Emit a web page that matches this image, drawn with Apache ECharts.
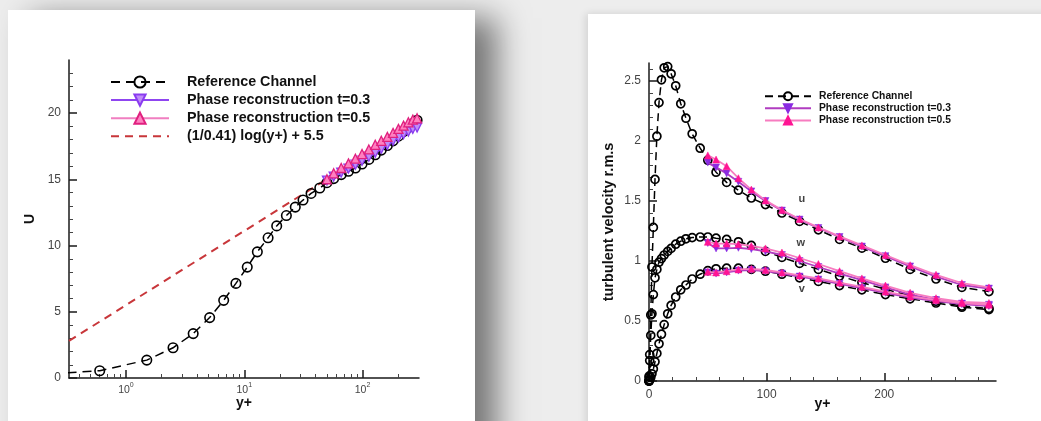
<!DOCTYPE html>
<html>
<head>
<meta charset="utf-8">
<script src="https://cdn.jsdelivr.net/npm/echarts@6/dist/echarts.min.js"></script>
<style>
  body { margin: 0; width: 1041px; height: 421px; overflow: hidden; position: relative; background: #ededed; }
  #cardL { position: absolute; left: 8px; top: 10px; width: 467px; height: 440px; background: #fff;
           box-shadow: 22px 8px 30px rgba(0, 0, 0, 0.5); }
  #cardR { position: absolute; left: 588px; top: 14px; width: 480px; height: 440px; background: #fff;
           box-shadow: -2px 0 8px rgba(0, 0, 0, 0.12); }
  #chart { position: absolute; left: 0; top: 0; width: 1041px; height: 421px; }
</style>
</head>
<body>
<div id="cardL"></div>
<div id="cardR"></div>
<div id="chart"></div>
<script>
// wall-normal positions of the reference channel data
const yPlus = [0, 0.1, 0.6, 1.5, 2.5, 3.7, 5.1, 6.7, 8.5, 10.6, 12.9, 15.9, 18.8, 22.7, 27, 31.4, 36.7, 43.5,
  50, 57, 66, 76, 87, 99, 113, 128, 144, 162, 181, 201, 222, 244, 266, 289];
// mean velocity (left), from yPlus[1]
const uPlusRef = [0.1, 0.55, 1.35, 2.28, 3.35, 4.56, 5.86, 7.14, 8.37, 9.52, 10.58, 11.48, 12.26, 12.9, 13.43,
  13.93, 14.34, 14.74, 15.05, 15.35, 15.6, 15.85, 16.15, 16.5, 16.85, 17.2, 17.55, 17.9, 18.25, 18.6, 18.9, 19.2, 19.45];
// reconstruction starts at y+ = 50
const yPlusRecon = yPlus.slice(18);
const uPlusT3 = [14.9, 15.2, 15.5, 15.8, 16.1, 16.4, 16.7, 17.0, 17.3, 17.6, 17.9, 18.15, 18.4, 18.6, 18.8, 18.9];
const uPlusT5 = [15.0, 15.45, 15.85, 16.2, 16.55, 16.9, 17.25, 17.6, 17.9, 18.2, 18.5, 18.8, 19.05, 19.3, 19.5, 19.6];
// log law
const lawYPlus = [0.33, 1, 10, 100, 300];
const lawU = [2.8, 5.5, 11.1, 16.7, 19.4];

// rms (right)
const uRms = [0, 0.04, 0.22, 0.55, 0.95, 1.28, 1.68, 2.04, 2.32, 2.51, 2.61, 2.62, 2.56, 2.46, 2.31, 2.19, 2.06, 1.94,
  1.84, 1.74, 1.655, 1.59, 1.525, 1.47, 1.40, 1.33, 1.26, 1.18, 1.107, 1.023, 0.93, 0.85, 0.78, 0.745];
const wRms = [0, 0.03, 0.17, 0.38, 0.56, 0.72, 0.86, 0.93, 0.99, 1.02, 1.05, 1.08, 1.105, 1.14, 1.165, 1.185, 1.195, 1.2,
  1.2, 1.19, 1.18, 1.16, 1.13, 1.08, 1.03, 0.98, 0.93, 0.875, 0.82, 0.765, 0.71, 0.665, 0.625, 0.605];
const vRms = [0, 0, 0.01, 0.03, 0.06, 0.1, 0.16, 0.23, 0.31, 0.39, 0.47, 0.56, 0.63, 0.70, 0.76, 0.80, 0.85, 0.89,
  0.92, 0.935, 0.94, 0.94, 0.93, 0.915, 0.89, 0.86, 0.83, 0.795, 0.76, 0.72, 0.685, 0.65, 0.615, 0.595];
const uRmsT3 = [1.82, 1.78, 1.73, 1.66, 1.58, 1.50, 1.42, 1.345, 1.275, 1.20, 1.12, 1.04, 0.955, 0.87, 0.80, 0.77];
const uRmsT5 = [1.88, 1.845, 1.79, 1.69, 1.595, 1.505, 1.425, 1.35, 1.28, 1.205, 1.13, 1.05, 0.965, 0.885, 0.815, 0.78];
const wRmsT3 = [1.15, 1.105, 1.105, 1.11, 1.1, 1.08, 1.05, 1.0, 0.95, 0.895, 0.84, 0.78, 0.72, 0.675, 0.645, 0.635];
const wRmsT5 = [1.16, 1.145, 1.145, 1.14, 1.125, 1.105, 1.07, 1.025, 0.975, 0.915, 0.855, 0.795, 0.735, 0.69, 0.66, 0.65];
const vRmsT3 = [0.905, 0.895, 0.905, 0.92, 0.925, 0.915, 0.895, 0.87, 0.845, 0.81, 0.775, 0.735, 0.695, 0.665, 0.64, 0.625];
const vRmsT5 = [0.91, 0.905, 0.915, 0.93, 0.935, 0.925, 0.905, 0.88, 0.855, 0.82, 0.785, 0.745, 0.705, 0.675, 0.65, 0.635];

// ticks
const logMajor = [1, 10, 100];
const logMinor = [0.4, 0.5, 0.6, 0.7, 0.8, 0.9, 2, 3, 4, 5, 6, 7, 8, 9, 20, 30, 40, 50, 60, 70, 80, 90, 200];
const uMajor = [0, 5, 10, 15, 20];
const uMinor = [1, 2, 3, 4, 6, 7, 8, 9, 11, 12, 13, 14, 16, 17, 18, 19, 21, 22, 23];
const ypMajor = [0, 100, 200];
const ypMinor = [20, 40, 60, 80, 120, 140, 160, 180, 220, 240, 260, 280];
const rmsMajor = [0, 0.5, 1, 1.5, 2, 2.5];
const rmsMinor = [0.1, 0.2, 0.3, 0.4, 0.6, 0.7, 0.8, 0.9, 1.1, 1.2, 1.3, 1.4, 1.6, 1.7, 1.8, 1.9, 2.1, 2.2, 2.3, 2.4, 2.6];

const NAME_REF = 'Reference Channel';
const NAME_T3 = 'Phase reconstruction t=0.3';
const NAME_T5 = 'Phase reconstruction t=0.5';
const NAME_LAW = '(1/0.41) log(y+) + 5.5';

const FONT = 'Liberation Sans, Arial, Helvetica, sans-serif';
const pts = (xs, ys) => xs.map((x, i) => [x, ys[i]]);

const axisLine = { lineStyle: { color: '#1a1a1a', width: 1.5 } };
const labelStyle = { color: '#444', fontSize: 12, fontFamily: FONT };
const nameStyle = { color: '#111', fontWeight: 'bold', fontSize: 14, fontFamily: FONT };

function majorAxis(extra, ticks, labels) {
  return Object.assign({
    axisLine: axisLine,
    axisTick: { inside: true, length: 8, customValues: ticks, lineStyle: { color: '#1a1a1a', width: 1.5 } },
    axisLabel: Object.assign({ customValues: labels }, labelStyle),
    splitLine: { show: false }
  }, extra);
}
function minorAxis(extra, ticks) {
  return Object.assign({
    axisLine: { show: false },
    axisTick: { inside: true, length: 4, customValues: ticks, lineStyle: { color: '#444', width: 1 } },
    axisLabel: { show: false },
    splitLine: { show: false }
  }, extra);
}

// left panel styles
const refL = {
  type: 'line', xAxisIndex: 0, yAxisIndex: 0, name: NAME_REF,
  symbol: 'circle', symbolSize: 9.5,
  itemStyle: { color: 'rgba(0,0,0,0)', borderColor: '#000', borderWidth: 1.6 },
  lineStyle: { color: '#000', width: 1.5, type: [9, 6] },
  data: pts(yPlus.slice(1), uPlusRef), z: 3
};
const lawL = {
  type: 'line', xAxisIndex: 0, yAxisIndex: 0, name: NAME_LAW,
  symbol: 'circle', showSymbol: false,
  itemStyle: { color: 'rgba(0,0,0,0)' },
  lineStyle: { color: '#c8363a', width: 2, type: [8, 6] },
  data: pts(lawYPlus, lawU), z: 2
};
const t3L = {
  type: 'line', xAxisIndex: 0, yAxisIndex: 0, name: NAME_T3,
  symbol: 'triangle', symbolRotate: 180, symbolSize: 9,
  itemStyle: { color: '#c08cf8', borderColor: '#8a3cf0', borderWidth: 1.3 },
  lineStyle: { color: '#8f45f0', width: 1.6 },
  data: pts(yPlusRecon, uPlusT3), z: 4
};
const t5L = {
  type: 'line', xAxisIndex: 0, yAxisIndex: 0, name: NAME_T5,
  symbol: 'triangle', symbolSize: 9,
  itemStyle: { color: '#ff80c0', borderColor: '#e0207f', borderWidth: 1.3 },
  lineStyle: { color: '#f07ec0', width: 1.6 },
  data: pts(yPlusRecon, uPlusT5), z: 5
};

// right panel styles (names carry a trailing space so the two legends stay separate)
function refR(ys) {
  return {
    type: 'line', xAxisIndex: 2, yAxisIndex: 2, name: NAME_REF + ' ',
    symbol: 'circle', symbolSize: 8,
    itemStyle: { color: 'rgba(0,0,0,0)', borderColor: '#000', borderWidth: 1.7 },
    lineStyle: { color: '#000', width: 1.5, type: [8, 5] },
    data: pts(yPlus, ys), z: 3
  };
}
function t3R(ys) {
  return {
    type: 'line', xAxisIndex: 2, yAxisIndex: 2, name: NAME_T3 + ' ',
    symbol: 'triangle', symbolRotate: 180, symbolSize: 7,
    itemStyle: { color: '#8a2be2', borderColor: '#8a2be2', borderWidth: 0.5 },
    lineStyle: { color: '#b03cc0', width: 1.8 },
    data: pts(yPlusRecon, ys), z: 4
  };
}
function t5R(ys) {
  return {
    type: 'line', xAxisIndex: 2, yAxisIndex: 2, name: NAME_T5 + ' ',
    symbol: 'triangle', symbolSize: 7,
    itemStyle: { color: '#ff1493', borderColor: '#ff1493', borderWidth: 0.5 },
    lineStyle: { color: '#f77cc0', width: 1.8 },
    data: pts(yPlusRecon, ys), z: 5
  };
}

const chart = echarts.init(document.getElementById('chart'));
chart.setOption({
  animation: false,
  textStyle: { fontFamily: FONT },
  grid: [
    { left: 69, top: 60, width: 350, height: 318 },
    { left: 649, top: 63, width: 347, height: 318 }
  ],
  legend: [
    {
      left: 105, top: 70, orient: 'vertical', selectedMode: false,
      itemWidth: 58, itemHeight: 14, itemGap: 4.1,
      textStyle: { color: '#111', fontSize: 14.3, fontWeight: 'bold', lineHeight: 14, padding: [0, 0, 0, 13] },
      data: [NAME_REF, NAME_T3, NAME_T5, NAME_LAW]
    },
    {
      left: 759, top: 86.2, orient: 'vertical', selectedMode: false,
      itemWidth: 46, itemHeight: 10, itemGap: 2.1,
      textStyle: { color: '#111', fontSize: 10.3, fontWeight: 'bold', lineHeight: 10, padding: [0, 0, 0, 3] },
      data: [NAME_REF + ' ', NAME_T3 + ' ', NAME_T5 + ' ']
    }
  ],
  xAxis: [
    majorAxis({
      type: 'log', logBase: 10, gridIndex: 0, position: 'bottom', min: 0.33, max: 300,
      name: 'y+', nameLocation: 'middle', nameGap: 18, nameMoveOverlap: false, nameTextStyle: nameStyle
    }, logMajor, logMajor),
    minorAxis({ type: 'log', logBase: 10, gridIndex: 0, position: 'bottom', min: 0.33, max: 300 }, logMinor),
    majorAxis({
      type: 'value', gridIndex: 1, position: 'bottom', min: 0, max: 295,
      name: 'y+', nameLocation: 'middle', nameGap: 16, nameMoveOverlap: false, nameTextStyle: nameStyle
    }, ypMajor, ypMajor),
    minorAxis({ type: 'value', gridIndex: 1, position: 'bottom', min: 0, max: 295 }, ypMinor)
  ],
  yAxis: [
    majorAxis({
      type: 'value', gridIndex: 0, position: 'left', min: 0, max: 24,
      name: 'U', nameLocation: 'middle', nameGap: 32, nameTextStyle: nameStyle
    }, uMajor, uMajor),
    minorAxis({ type: 'value', gridIndex: 0, position: 'left', min: 0, max: 24 }, uMinor),
    majorAxis({
      type: 'value', gridIndex: 1, position: 'left', min: 0, max: 2.65,
      name: 'turbulent velocity r.m.s', nameLocation: 'middle', nameGap: 32.5,
      nameTextStyle: Object.assign({}, nameStyle, { fontSize: 14.5 })
    }, rmsMajor, rmsMajor),
    minorAxis({ type: 'value', gridIndex: 1, position: 'left', min: 0, max: 2.65 }, rmsMinor)
  ],
  series: [
    lawL, refL, t3L, t5L,
    refR(uRms), refR(wRms), refR(vRms),
    t3R(uRmsT3), t3R(wRmsT3), t3R(vRmsT3),
    t5R(uRmsT5), t5R(wRmsT5), t5R(vRmsT5),
    {
      type: 'scatter', xAxisIndex: 2, yAxisIndex: 2, name: 'labels', symbolSize: 0, z: 6,
      label: { show: true, position: 'inside', formatter: '{b}', color: '#111', fontWeight: 'bold', fontSize: 11 },
      data: [
        { name: 'u', value: [130, 1.52] },
        { name: 'w', value: [129, 1.15] },
        { name: 'v', value: [130, 0.77] }
      ]
    }
  ]
});
// log axis labels as 10 with a raised exponent
chart.setOption({
  xAxis: [{
    axisLabel: {
      margin: 4,
      formatter: v => '{a|10}{b|' + Math.round(Math.log10(v)) + '}',
      rich: {
        a: { fontSize: 10.5, color: '#444', lineHeight: 16, fontFamily: FONT },
        b: { fontSize: 7, color: '#444', lineHeight: 8, verticalAlign: 'top', fontFamily: FONT }
      }
    }
  }]
});
</script>
</body>
</html>
